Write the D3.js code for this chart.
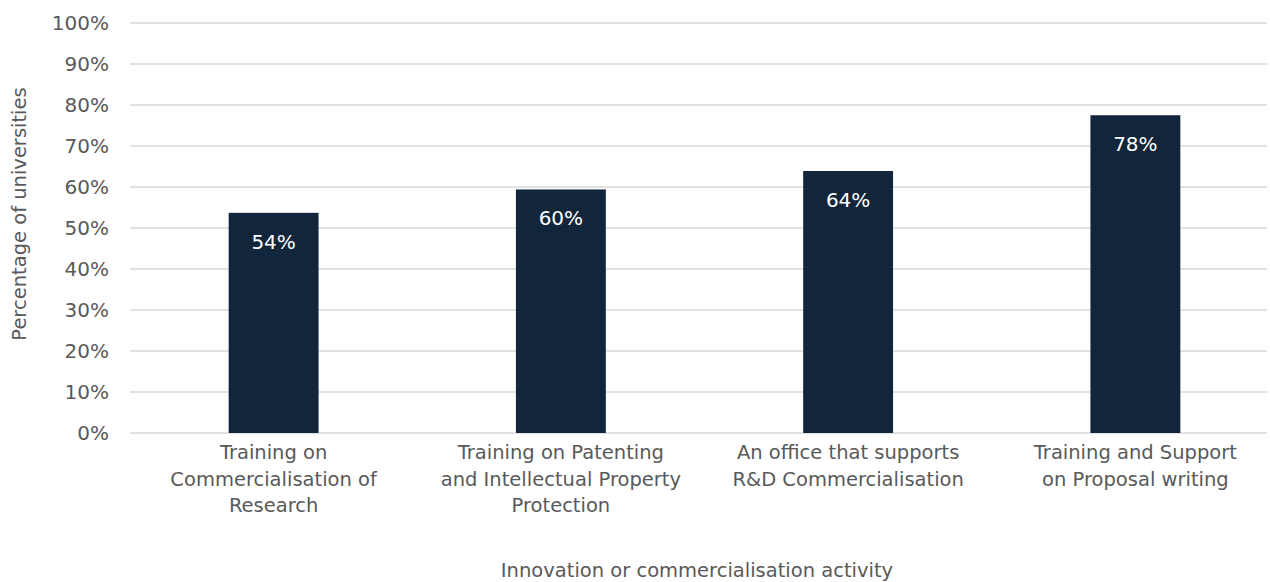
<!DOCTYPE html>
<html><head><meta charset="utf-8">
<script src="https://cdn.jsdelivr.net/npm/d3@7"></script>
<style>body{margin:0;background:#fff}svg{display:block}</style>
</head><body>
<script>
const categories = [
  ["Training on", "Commercialisation of", "Research"],
  ["Training on Patenting", "and Intellectual Property", "Protection"],
  ["An office that supports", "R&D Commercialisation"],
  ["Training and Support", "on Proposal writing"]
];
const values = [0.537, 0.594, 0.639, 0.775];
const labels = ["54%", "60%", "64%", "78%"];
const yTicks = [0,0.1,0.2,0.3,0.4,0.5,0.6,0.7,0.8,0.9,1.0];
const xTitle = "Innovation or commercialisation activity";
const yTitle = "Percentage of universities";

(function(){
const W = 1270, H = 582;
const font = "DejaVu Sans, Verdana, sans-serif";
const fs = "19.5px";
const svg = d3.select("body").append("svg").attr("width", W).attr("height", H);
const pl = 130, pr = 1279, pt = 23, pb = 433;
const x = d3.scaleBand().domain(d3.range(categories.length)).range([pl, pr]).paddingInner(0.687).paddingOuter(0.3435);
const y = d3.scaleLinear().domain([0, 1]).range([pb, pt]);

svg.append("g").selectAll("line").data(yTicks).join("line")
  .attr("x1", pl).attr("x2", 1267)
  .attr("y1", d => y(d)).attr("y2", d => y(d))
  .attr("stroke", "#d9d9d9").attr("stroke-width", 1.5);

const yAxis = svg.append("g").attr("transform", `translate(${pl},0)`)
  .call(d3.axisLeft(y).tickValues(yTicks).tickFormat(d3.format(".0%")).tickSize(0).tickPadding(21));
yAxis.select(".domain").remove();
yAxis.selectAll("text").attr("fill", "#595959").style("font-family", font).style("font-size", "20px");

svg.append("g").selectAll("rect").data(values).join("rect")
  .attr("x", (d, i) => x(i)).attr("width", x.bandwidth())
  .attr("y", d => y(d)).attr("height", d => y(0) - y(d))
  .attr("fill", "#12263b");

svg.append("g").selectAll("text").data(values).join("text")
  .attr("x", (d, i) => x(i) + x.bandwidth() / 2)
  .attr("y", d => y(d) + 36)
  .attr("text-anchor", "middle").attr("fill", "#fff")
  .style("font-family", font).style("font-size", "20px")
  .text((d, i) => labels[i]);

const xl = svg.append("g");
categories.forEach((lines, i) => {
  lines.forEach((ln, j) => {
    xl.append("text")
      .attr("x", x(i) + x.bandwidth() / 2)
      .attr("y", 459 + j * 26.7)
      .attr("text-anchor", "middle").attr("fill", "#595959")
      .style("font-family", font).style("font-size", fs)
      .text(ln);
  });
});

svg.append("text").attr("x", 697).attr("y", 577).attr("text-anchor", "middle")
  .attr("fill", "#595959").style("font-family", font).style("font-size", fs).text(xTitle);
svg.append("text").attr("transform", "translate(26,214) rotate(-90)").attr("text-anchor", "middle")
  .attr("fill", "#595959").style("font-family", font).style("font-size", fs).text(yTitle);
})();
</script>
</body></html>
